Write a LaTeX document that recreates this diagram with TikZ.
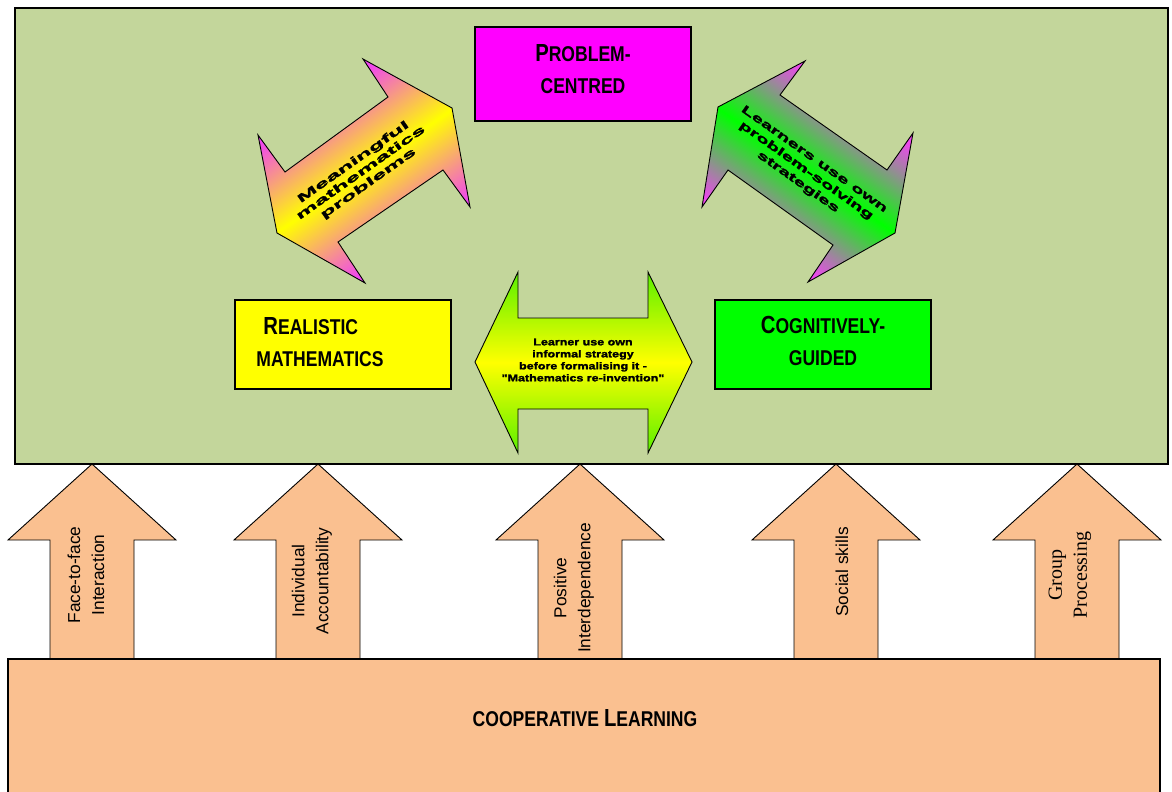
\documentclass[tikz,border=0pt]{standalone}
\usepackage{fontspec}
\setmainfont{Liberation Sans}
\newfontfamily\narrowfont{Liberation Sans}[FakeStretch=0.82]
\newfontfamily\wideleft{Liberation Sans}[FakeStretch=2.2,FakeBold=2]
\newfontfamily\wideright{Liberation Sans}[FakeStretch=1.8,FakeBold=2]
\newfontfamily\widemid{Liberation Sans}[FakeStretch=1.25,FakeBold=2]
\newfontfamily\serifgp{Liberation Serif}
\newcommand{\scbig}[1]{{\fontsize{24.7}{31.5}\selectfont #1}}
\definecolor{bggreen}{RGB}{195,214,155}
\definecolor{peach}{RGB}{250,192,144}
\definecolor{boxmag}{RGB}{255,0,255}
\definecolor{boxyel}{RGB}{255,255,0}
\definecolor{boxgrn}{RGB}{0,255,0}
\definecolor{pinkend}{RGB}{240,70,240}
\definecolor{limeend}{RGB}{90,240,0}
\pgfdeclareverticalshading{yellowband}{100bp}{color(0bp)=(pinkend); color(31bp)=(pinkend);
  color(50bp)=(boxyel); color(69bp)=(pinkend); color(100bp)=(pinkend)}
\pgfdeclareverticalshading{greenband}{100bp}{color(0bp)=(pinkend); color(31bp)=(pinkend);
  color(50bp)=(boxgrn); color(69bp)=(pinkend); color(100bp)=(pinkend)}

\begin{document}
\begin{tikzpicture}[x=1pt, y=-1pt,
    box/.style = {draw, line width=1.2pt, minimum width=216pt, inner sep=0pt},
    boxfont/.style = {align=center, font=\narrowfont\bfseries\fontsize{21.4}{31.5}\selectfont},
    blockarrow/.style = {draw, line width=0.9pt},
    uptext/.style = {rotate=90, align=center, font=\fontsize{17.3}{24}\selectfont}]
    \useasboundingbox (0,0) rectangle (1172,792);

    % Frames and pillars
    \draw[line width=1.2pt, fill=bggreen] (15,8) rectangle (1168,464);
    \foreach \x in {92,318,580,836,1077}
      \draw[blockarrow, fill=peach] ({\x-42},659) -- ({\x-42},540) -- ({\x-84},540) -- (\x,464)
            -- ({\x+84},540) -- ({\x+42},540) -- ({\x+42},659);
    \draw[line width=1.2pt, fill=peach] (8,659) rectangle (1160,800);

    % Nodes
    \node[box, fill=boxmag, minimum height=94pt] (prob) at (583,74) {};
    \node[box, fill=boxyel, minimum height=89pt] (real) at (343,344.5) {};
    \node[box, fill=boxgrn, minimum height=89pt] (cogn) at (823,344.5) {};
    \node[boxfont] (probtxt) at (583,69) {\scbig{P}ROBLEM-\\CENTRED};
    \node[boxfont, align=left] (realtxt) at (320,342) {\hspace*{7pt}\scbig{R}EALISTIC\\MATHEMATICS};
    \node[boxfont] (cogntxt) at (823,341) {\scbig{C}OGNITIVELY-\\GUIDED};

    % Double arrows
    \draw[blockarrow, shading=yellowband, shading angle=35.2]
      (363,59) -- (452,108) -- (470,207) -- (443,170) -- (338,242) -- (365,283)
      -- (277,233) -- (258,135) -- (285,172) -- (388,97) -- cycle;
    \draw[blockarrow, shading=greenband, shading angle=-35.3]
      (805,61) -- (780,95) -- (887,170) -- (913,133) -- (895,233) -- (808,282)
      -- (833,245) -- (728,170) -- (702,207) -- (718,107) -- cycle;
    \draw[blockarrow, top color=limeend, bottom color=limeend, middle color=boxyel]
      (475,362) -- (518,272) -- (518,318) -- (648,318) -- (648,272) -- (692,362)
      -- (648,453) -- (648,409) -- (518,409) -- (518,453) -- cycle;

    \node[rotate=35.2, align=center, font=\wideleft\bfseries\fontsize{11.5}{13}\selectfont] (mean) at (361,173) {Meaningful\\mathematics\\problems};
    \node[rotate=-35.3, align=center, font=\wideright\bfseries\fontsize{11.5}{14}\selectfont] (lear) at (806,171) {Learners use own\\problem-solving\\strategies};
    \node[align=center, font=\widemid\bfseries\fontsize{10}{12}\selectfont] (info) at (583,360) {Learner use own\\informal strategy\\before formalising it -\\"Mathematics re-invention"};

    % Pillar labels
    \node[uptext] (face) at (86,575) {Face-to-face\\Interaction};
    \node[uptext] (indi) at (312,581) {Individual\\Accountability};
    \node[uptext] (posi) at (574,588) {Positive\\Interdependence};
    \node[uptext] (soci) at (842,572) {Social skills};
    \node[uptext, font=\serifgp\fontsize{20}{25}\selectfont] (grou) at (1070,575) {Group\\Processing};

    \node[font=\narrowfont\bfseries\fontsize{21.4}{31.5}\selectfont] (coop) at (585,718) {COOPERATIVE \scbig{L}EARNING};
\end{tikzpicture}
\end{document}
